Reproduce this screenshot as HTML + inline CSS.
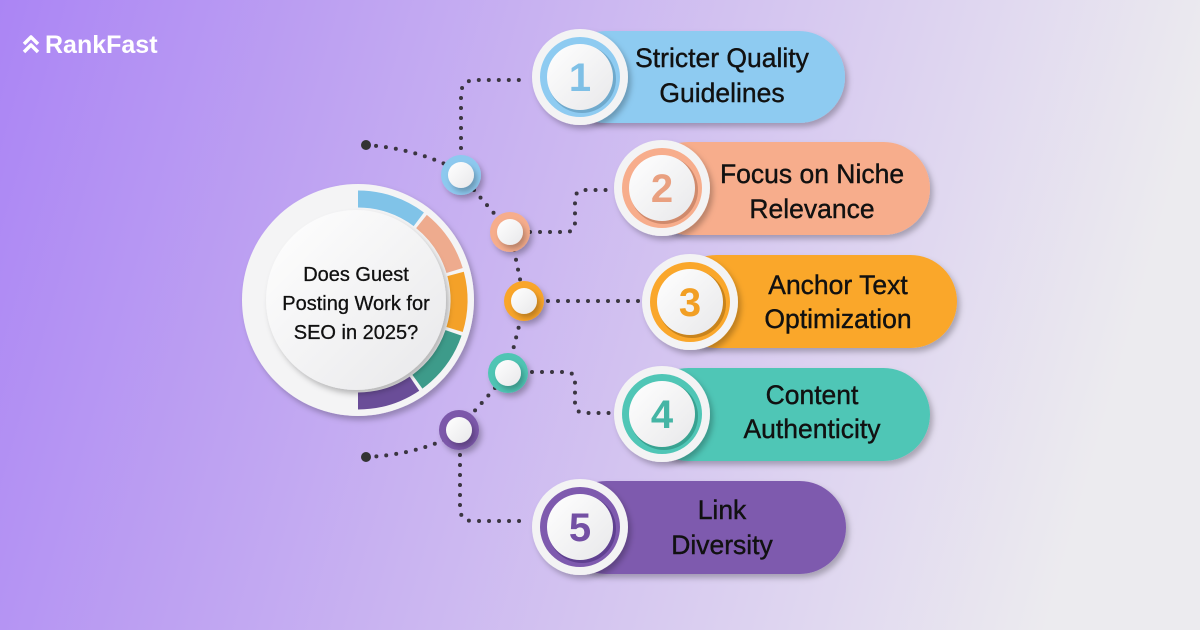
<!DOCTYPE html>
<html><head><meta charset="utf-8"><style>
html,body{margin:0;padding:0;width:1200px;height:630px;overflow:hidden}
svg{display:block}
text{font-family:"Liberation Sans",sans-serif}
</style></head><body>
<svg width="1200" height="630" viewBox="0 0 1200 630" xmlns="http://www.w3.org/2000/svg">
<defs>
<linearGradient id="bg" x1="0" y1="0" x2="1" y2="0.15">
<stop offset="0" stop-color="#ab85f4"/><stop offset="0.45" stop-color="#c9b3f1"/><stop offset="1" stop-color="#ecebef"/>
</linearGradient>
<linearGradient id="wh" x1="0" y1="0" x2="1" y2="1">
<stop offset="0" stop-color="#ffffff"/><stop offset="1" stop-color="#e8e8ea"/>
</linearGradient>
<filter id="sh" x="-30%" y="-30%" width="160%" height="160%"><feDropShadow dx="3" dy="4" stdDeviation="3" flood-color="#000" flood-opacity="0.25"/></filter>
</defs>
<rect width="1200" height="630" fill="url(#bg)"/>

<g fill="none" stroke="#fff" stroke-width="3.5" stroke-linejoin="round">
<polyline points="24,44 31,37 38,44"/><polyline points="24,52 31,45 38,52"/>
</g>
<text x="45" y="53" font-size="25" font-weight="bold" fill="#fff">RankFast</text>

<g fill="none" stroke="#3a3540" stroke-width="4" stroke-linecap="round" stroke-dasharray="0 10">
<path d="M366,145 Q410,148 447,165"/>
<path d="M461,158 L461,95 Q461,80 476,80 L527,80"/>
<path d="M474,190 L498,218"/>
<path d="M530,232 L566,232 Q575,232 575,222 L575,200 Q575,190 585,190 L612,190"/>
<path d="M514,250 L521,284"/>
<path d="M548,301 L640,301"/>
<path d="M521,318 L512,354"/>
<path d="M532,372 L566,372 Q575,372 575,382 L575,403 Q575,413 585,413 L612,413"/>
<path d="M495,388 L471,415"/>
<path d="M444,440 Q410,455 366,457"/>
<path d="M460,455 L460,508 Q460,521 473,521 L527,521"/>
</g>
<circle cx="366" cy="145" r="5" fill="#333"/>
<circle cx="366" cy="457" r="5" fill="#333"/>

<g filter="url(#sh)">
<circle cx="461" cy="175" r="20" fill="#8dc9ef"/>
<circle cx="510" cy="232" r="20" fill="#f6ad8c"/>
<circle cx="524" cy="301" r="20" fill="#f9a52a"/>
<circle cx="508" cy="373" r="20" fill="#4fc5b4"/>
<circle cx="459" cy="430" r="20" fill="#7c58aa"/>
</g>
<g fill="url(#wh)" filter="url(#sh)">
<circle cx="461" cy="175" r="13"/><circle cx="510" cy="232" r="13"/><circle cx="524" cy="301" r="13"/><circle cx="508" cy="373" r="13"/><circle cx="459" cy="430" r="13"/>
</g>

<circle cx="358" cy="300" r="116" fill="#f4f4f5" filter="url(#sh)"/>
<g fill="none" stroke-width="17">
<path d="M358,199 A101,101 0 0 1 418.8,219.3" stroke="#80c3e8"/>
<path d="M421.5,221.5 A101,101 0 0 1 454.6,270.5" stroke="#eeab8e"/>
<path d="M455.6,273.9 A101,101 0 0 1 454.6,329.5" stroke="#f4a128"/>
<path d="M453.5,332.9 A101,101 0 0 1 417.4,381.7" stroke="#3d9b8a"/>
<path d="M414.5,383.7 A101,101 0 0 1 358,401" stroke="#6a4d98"/>
</g>
<circle cx="356" cy="300" r="90" fill="url(#wh)" filter="url(#sh)"/>
<g font-size="20" fill="#111" text-anchor="middle" stroke="#111" stroke-width="0.3">
<text x="356" y="281">Does Guest</text>
<text x="356" y="310">Posting Work for</text>
<text x="356" y="339">SEO in 2025?</text>
</g>

<g filter="url(#sh)">
<rect x="560" y="31" width="285" height="92" rx="46" fill="#8ecbf1"/>
<rect x="642" y="142" width="288" height="93" rx="46.5" fill="#f7ad8c"/>
<rect x="670" y="255" width="287" height="93" rx="46.5" fill="#faa72b"/>
<rect x="642" y="368" width="288" height="93" rx="46.5" fill="#50c6b6"/>
<rect x="560" y="481" width="286" height="93" rx="46.5" fill="#7e5aae"/>
</g>

<g>
<circle cx="580" cy="77" r="48" fill="#f3f3f4" filter="url(#sh)"/>
<circle cx="580" cy="77" r="40" fill="#8ecbf1"/><circle cx="582" cy="79" r="34" fill="#6fa9cc"/><circle cx="580" cy="77" r="33" fill="url(#wh)"/>
<circle cx="662" cy="188" r="48" fill="#f3f3f4" filter="url(#sh)"/>
<circle cx="662" cy="188" r="40" fill="#f7ad8c"/><circle cx="664" cy="190" r="34" fill="#d08a6c"/><circle cx="662" cy="188" r="33" fill="url(#wh)"/>
<circle cx="690" cy="302" r="48" fill="#f3f3f4" filter="url(#sh)"/>
<circle cx="690" cy="302" r="40" fill="#faa72b"/><circle cx="692" cy="304" r="34" fill="#c9841c"/><circle cx="690" cy="302" r="33" fill="url(#wh)"/>
<circle cx="662" cy="414" r="48" fill="#f3f3f4" filter="url(#sh)"/>
<circle cx="662" cy="414" r="40" fill="#50c6b6"/><circle cx="664" cy="416" r="34" fill="#38a291"/><circle cx="662" cy="414" r="33" fill="url(#wh)"/>
<circle cx="580" cy="527" r="48" fill="#f3f3f4" filter="url(#sh)"/>
<circle cx="580" cy="527" r="40" fill="#7e5aae"/><circle cx="582" cy="529" r="34" fill="#5f4090"/><circle cx="580" cy="527" r="33" fill="url(#wh)"/>
</g>
<g font-size="40" font-weight="bold" text-anchor="middle">
<text x="580" y="91" fill="#7fc0e6">1</text>
<text x="662" y="202" fill="#e9a080">2</text>
<text x="690" y="316" fill="#f29f24">3</text>
<text x="662" y="428" fill="#45b5a5">4</text>
<text x="580" y="541" fill="#7450a4">5</text>
</g>

<g font-size="26.5" fill="#111" text-anchor="middle" stroke="#111" stroke-width="0.4">
<text x="722" y="67">Stricter Quality</text>
<text x="722" y="102">Guidelines</text>
<text x="812" y="183">Focus on Niche</text>
<text x="812" y="218">Relevance</text>
<text x="838" y="294">Anchor Text</text>
<text x="838" y="328">Optimization</text>
<text x="812" y="404">Content</text>
<text x="812" y="438">Authenticity</text>
<text x="722" y="519">Link</text>
<text x="722" y="554">Diversity</text>
</g>
</svg>
</body></html>
